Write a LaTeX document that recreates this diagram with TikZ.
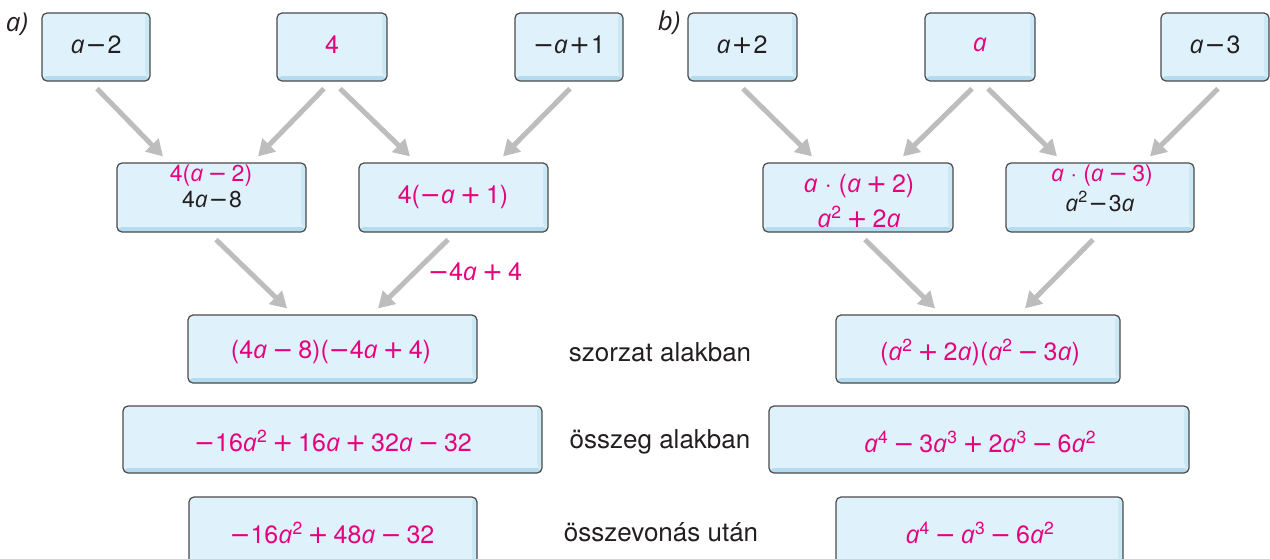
\documentclass[tikz,border=0pt]{standalone}
\usepackage{fontspec}
\setmainfont{TeX Gyre Heros}
\newfontfamily\opsans{Open Sans}
\newfontfamily\dvs{DejaVu Sans}
\usetikzlibrary{arrows.meta,calc}

\definecolor{mag}{HTML}{E6007E}
\definecolor{ink}{HTML}{231F20}
\definecolor{boxfill}{HTML}{DFF1FA}
\definecolor{boxline}{HTML}{4A4A4A}
\definecolor{bandlo}{HTML}{B3DCF0}
\definecolor{bandhi}{HTML}{CBE8F5}
\definecolor{arrowgray}{HTML}{BDBDBD}

% italic single-storey variable and operator signs
\newcommand\va{{\opsans\itshape a}}
\newcommand\m{{\dvs −}}                          % leading sign
\newcommand\mi{\hspace{.04em}\m\hspace{.04em}}   % tight minus
\newcommand\pl{\hspace{.04em}{\dvs +}\hspace{.04em}}
\newcommand\M{\hspace{.2em}\m\hspace{.2em}}       % spaced minus
\newcommand\Pl{\hspace{.2em}{\dvs +}\hspace{.2em}}
\newcommand\pw[1]{\textsuperscript{#1}}

\tikzset{
  box/.style={draw=boxline, line width=1.2pt, rounded corners=5pt, fill=boxfill,
    inner sep=0pt,
    path picture={
      \fill[bandlo] ([yshift=5pt]path picture bounding box.south west)
        rectangle (path picture bounding box.south east);
      \fill[bandhi] ([xshift=-5pt]path picture bounding box.north east)
        rectangle ([yshift=5pt]path picture bounding box.south east);
    }},
  small/.style={box, minimum width=108pt, minimum height=68pt},
  mid/.style={box, minimum width=189pt, minimum height=69pt},
  txt/.style={inner sep=0pt, font=\fontsize{25}{30}\selectfont},
  pink/.style={txt, text=mag},
  dark/.style={txt, text=ink},
  twoline/.style={font=\fontsize{23}{27}\selectfont},
  caption/.style={inner sep=0pt, text=ink, font=\fontsize{26}{30}\selectfont},
  arr/.style={draw=arrowgray, line width=5pt, -{Triangle[length=16pt,width=18pt]}},
}

\begin{document}
\begin{tikzpicture}[x=1pt, y=-1pt]
\useasboundingbox (0,0) rectangle (1270,558);
\clip (0,0) rectangle (1270,558);

% ---------- part a) ----------
\node[caption] (la) at (17,24) {{\opsans\itshape a)}};
\node[small] (a1) at (96,47) {};
\node[small, minimum width=110pt] (a2) at (332,47) {};
\node[small] (a3) at (569,47) {};
\node[dark] (a1t) at (96,45) {\va\mi 2};
\node[pink] (a2t) at (332,45) {4};
\node[dark] (a3t) at (569,45) {\m\va\pl 1};

\node[mid] (m1) at (211.5,197.5) {};
\node[mid] (m2) at (453.5,197.5) {};
\node[pink, twoline] (m1t) at (211,176) {4(\va\M 2)};
\node[dark, twoline] (m1u) at (212,200) {4\va\mi 8};
\node[pink] (m2t) at (453,197) {4(\m\va\Pl 1)};

\node[box, minimum width=289pt, minimum height=68pt] (r3a) at (332.5,349) {};
\node[pink] (r3at) at (331,352) {(4\va\M 8)(\m4\va\Pl 4)};
\node[box, minimum width=419pt, minimum height=67pt] (r4a) at (332.5,439.5) {};
\node[pink] (r4at) at (333,441) {\m16\va\pw{2}\Pl 16\va\Pl 32\va\M 32};
\node[box, minimum width=288pt, minimum height=80pt] (r5a) at (333,537) {};
\node[pink] (r5at) at (332,533) {\m16\va\pw{2}\Pl 48\va\M 32};

\node[pink] (lab) at (475,272) {\m4\va\Pl 4};

\draw[arr] ($(a1.south)+(1,7)$) -- ($(m1.north)+(-48.5,-6)$);
\draw[arr] ($(a2.south)+(-8,7)$) -- ($(m1.north)+(46.5,-6)$);
\draw[arr] ($(a2.south)+(8,7)$) -- ($(m2.north)+(-43.5,-6)$);
\draw[arr] ($(a3.south)+(1,7)$) -- ($(m2.north)+(49.5,-6)$);
\draw[arr] ($(m1.south)+(4.5,7)$) -- ($(r3a.north)+(-45.5,-6)$);
\draw[arr] ($(m2.south)+(-5.5,7)$) -- ($(r3a.north)+(45.5,-6)$);

% ---------- row captions ----------
\node[caption] (c1) at (660,352) {szorzat alakban};
\node[caption] (c2) at (660,442) {összeg alakban};
\node[caption] (c3) at (661,532) {összevonás után};

% ---------- part b) ----------
\node[caption] (lb) at (669,23) {{\opsans\itshape b)}};
\node[small, minimum width=109pt] (b1) at (742.5,47) {};
\node[small, minimum width=110pt] (b2) at (980,47) {};
\node[small] (b3) at (1215,47) {};
\node[dark] (b1t) at (742,45) {\va\pl 2};
\node[pink] (b2t) at (980,45) {\va};
\node[dark] (b3t) at (1215,45) {\va\mi 3};

\node[mid, minimum width=190pt] (n1) at (858,197.5) {};
\node[mid, minimum width=188pt] (n2) at (1100,197.5) {};
\node[pink] (n1t) at (859,186) {\va\ · (\va\Pl 2)};
\node[pink] (n1u) at (859,217) {\va\pw{2}\Pl 2\va};
\node[pink, twoline] (n2t) at (1102,176) {\va\ · (\va\M 3)};
\node[dark, twoline] (n2u) at (1100,201) {\va\pw{2}\mi 3\va};

\node[box, minimum width=284pt, minimum height=68pt] (r3b) at (978,349) {};
\node[pink] (r3bt) at (980,352) {(\va\pw{2}\Pl 2\va)(\va\pw{2}\M 3\va)};
\node[box, minimum width=420pt, minimum height=67pt] (r4b) at (979,439.5) {};
\node[pink] (r4bt) at (980,442) {\va\pw{4}\M 3\va\pw{3}\Pl 2\va\pw{3}\M 6\va\pw{2}};
\node[box, minimum width=287pt, minimum height=80pt] (r5b) at (979.5,537) {};
\node[pink] (r5bt) at (980,533) {\va\pw{4}\M\va\pw{3}\M 6\va\pw{2}};

\draw[arr] ($(b1.south)+(0.5,7)$) -- ($(n1.north)+(-46,-6)$);
\draw[arr] ($(b2.south)+(-8,7)$) -- ($(n1.north)+(45,-6)$);
\draw[arr] ($(b2.south)+(8,7)$) -- ($(n2.north)+(-43,-6)$);
\draw[arr] ($(b3.south)+(3,7)$) -- ($(n2.north)+(50,-6)$);
\draw[arr] ($(n1.south)+(7,7)$) -- ($(r3b.north)+(-43,-6)$);
\draw[arr] ($(n2.south)+(-7,7)$) -- ($(r3b.north)+(47,-6)$);
\end{tikzpicture}
\end{document}
